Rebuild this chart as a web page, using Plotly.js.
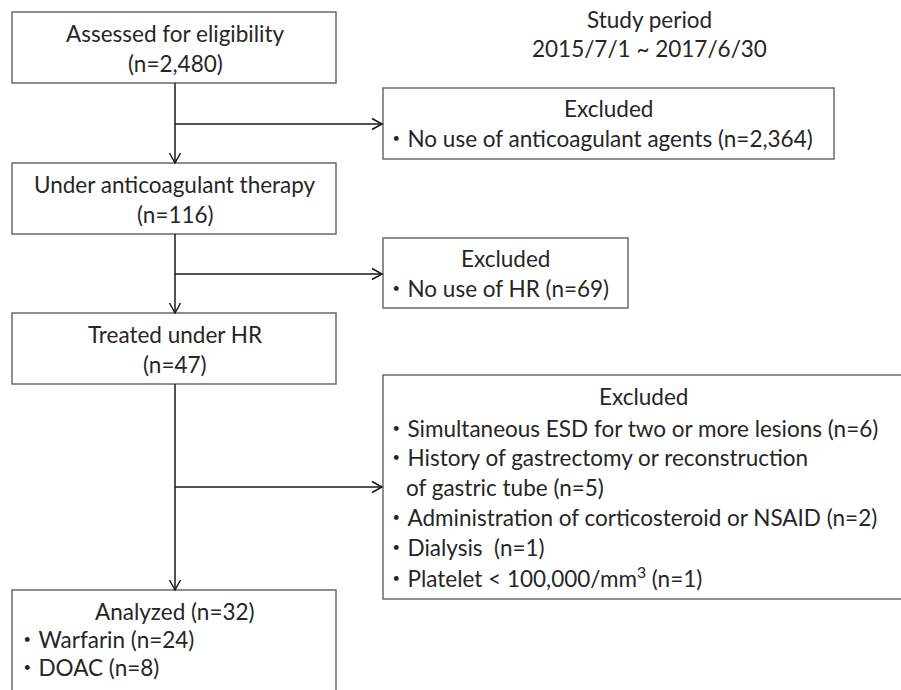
<!DOCTYPE html>
<html>
<head>
<meta charset="utf-8">
<script src="https://cdn.plot.ly/plotly-3.0.1.min.js"></script>
<style>html,body{margin:0;padding:0;background:#fff;}#chart{width:901px;height:690px;}</style>
</head>
<body>
<div id="chart"></div>
<script>
// ---- content (data) ----
const studyPeriod = ["Study period", "2015/7/1 ~ 2017/6/30"];
const mainBoxLines = [
  ["Assessed for eligibility", "(n=2,480)"],
  ["Under anticoagulant therapy", "(n=116)"],
  ["Treated under HR", "(n=47)"]
];
const analyzedTitle = "Analyzed (n=32)";
const analyzedItems = ["Warfarin (n=24)", "DOAC (n=8)"];
const excludedTitle = "Excluded";
const excluded1 = ["No use of anticoagulant agents (n=2,364)"];
const excluded2 = ["No use of HR (n=69)"];
const excluded3 = [
  ["Simultaneous ESD for two or more lesions (n=6)"],
  ["History of gastrectomy or reconstruction", "of gastric tube (n=5)"],
  ["Administration of corticosteroid or NSAID (n=2)"],
  ["Dialysis  (n=1)"],
  ["Platelet &lt; 100,000/mm<sup>3</sup> (n=1)"]
];
const bullet = "\u30FB";

// ---- layout geometry ----
const FONT = "Lato, 'Noto Sans CJK JP', sans-serif";
const FS = 22.5;
const TXT = "#262626";
const BOX = "#6a6a6a";
const LINE = "#1a1a1a";
const LS = 30; // line spacing
const mainX0 = 12, mainX1 = 336, trunkX = 175;
const mainBoxes = [[12, 83], [163, 234], [313, 384]];
const analyzedBox = [590, 700];
const exclBoxes = [
  {x0: 383, x1: 834, y0: 88, y1: 159, branchY: 124},
  {x0: 383, x1: 628, y0: 238, y1: 308, branchY: 274},
  {x0: 383, x1: 910, y0: 375, y1: 599, branchY: 487}
];

const shapes = [];
const annotations = [];

function rect(x0, y0, x1, y1) {
  shapes.push({type: 'rect', xref: 'x', yref: 'y', x0, y0, x1, y1,
    line: {color: BOX, width: 1.5}, fillcolor: 'rgba(0,0,0,0)'});
}
function seg(x0, y0, x1, y1) {
  shapes.push({type: 'line', xref: 'x', yref: 'y', x0, y0, x1, y1,
    line: {color: LINE, width: 1.5}});
}
function headDown(x, y) {
  shapes.push({type: 'path', xref: 'x', yref: 'y',
    path: `M ${x-5.5},${y-10} L ${x},${y} L ${x+5.5},${y-10}`,
    line: {color: LINE, width: 1.5}});
}
function headRight(x, y) {
  shapes.push({type: 'path', xref: 'x', yref: 'y',
    path: `M ${x-10},${y-5.5} L ${x},${y} L ${x-10},${y+5.5}`,
    line: {color: LINE, width: 1.5}});
}
function text(t, x, y, anchor) {
  annotations.push({text: t, x, y, xref: 'x', yref: 'y', showarrow: false,
    xanchor: anchor || 'center', yanchor: 'middle', align: anchor || 'center',
    font: {family: FONT, size: FS, color: TXT}});
}

// main boxes
mainBoxes.forEach((b, i) => {
  rect(mainX0, b[0], mainX1, b[1]);
  const cy = (b[0] + b[1]) / 2;
  mainBoxLines[i].forEach((ln, j) => text(ln, trunkX, cy - LS/2 + j*LS + 1));
});
rect(mainX0, analyzedBox[0], mainX1, analyzedBox[1]);
text(analyzedTitle, trunkX, 611);
analyzedItems.forEach((it, j) => text(bullet + it, 14, 639 + j*28, 'left'));

// trunk + arrows
seg(trunkX, mainBoxes[0][1], trunkX, mainBoxes[1][0]); headDown(trunkX, mainBoxes[1][0]);
seg(trunkX, mainBoxes[1][1], trunkX, mainBoxes[2][0]); headDown(trunkX, mainBoxes[2][0]);
seg(trunkX, mainBoxes[2][1], trunkX, analyzedBox[0]); headDown(trunkX, analyzedBox[0]);

// excluded boxes
const exclLists = [excluded1.map(s => [s]), excluded2.map(s => [s]), excluded3];
exclBoxes.forEach((b, i) => {
  rect(b.x0, b.y0, b.x1, b.y1);
  seg(trunkX, b.branchY, b.x0 - 1, b.branchY); headRight(b.x0 - 1, b.branchY);
  const cx = (b.x0 + Math.min(b.x1, 905)) / 2;
  let y;
  if (i === 2) { y = 396; } else { y = b.y0 + 20; }
  text(excludedTitle, i === 2 ? 643 : cx, y);
  y += (i === 2 ? 32 : 30);
  exclLists[i].forEach(item => {
    item.forEach((ln, k) => {
      if (k === 0) text(bullet + ln, 383, y, 'left');
      else text(ln, 404, y, 'left');
      y += (i === 2 ? 29.8 : 30);
    });
  });
});

// study period
text(studyPeriod[0], 649, 19);
text(studyPeriod[1], 649, 48);

const layout = {
  width: 901, height: 690,
  margin: {l: 0, r: 0, t: 0, b: 0},
  paper_bgcolor: '#fff', plot_bgcolor: '#fff',
  xaxis: {range: [0, 901], visible: false, fixedrange: true},
  yaxis: {range: [690, 0], visible: false, fixedrange: true},
  showlegend: false,
  shapes, annotations
};
Plotly.newPlot('chart', [], layout, {staticPlot: true, displayModeBar: false});
</script>
</body>
</html>
